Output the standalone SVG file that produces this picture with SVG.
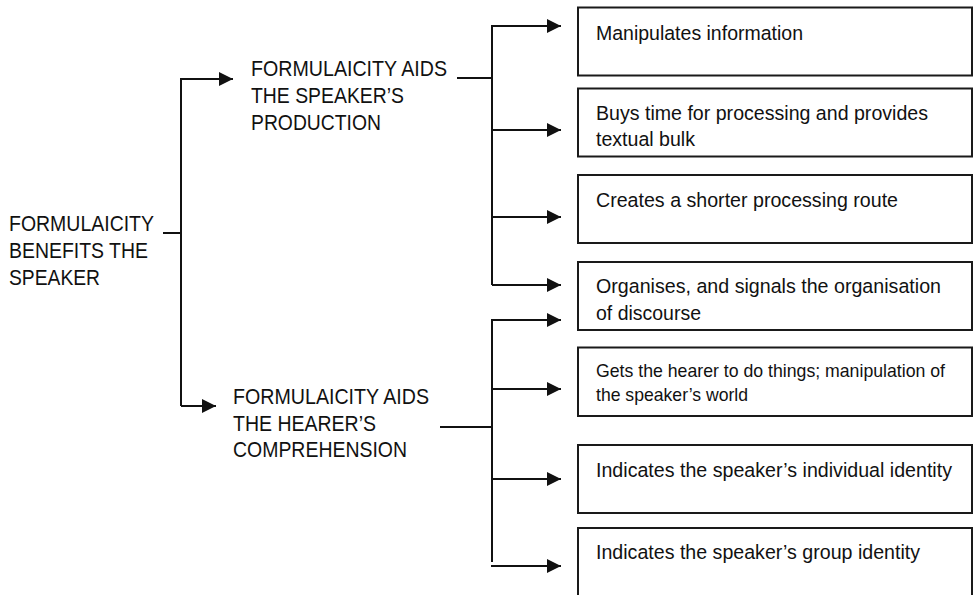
<svg xmlns="http://www.w3.org/2000/svg" width="974" height="595" viewBox="0 0 974 595">
<defs>
<style>
text{font-family:"Liberation Sans Narrow","Liberation Sans",Arial,sans-serif;fill:#111;font-size:22px}
.bt{font-size:20.5px}
.sm{font-size:18.5px}
.box{fill:#fff;stroke:#1a1a1a;stroke-width:2}
.ln{fill:none;stroke:#111;stroke-width:2}
</style>
<marker id="ah" markerUnits="userSpaceOnUse" markerWidth="15" markerHeight="15" refX="14" refY="7" orient="auto">
<path d="M0,0 L14,7 L0,14 z" fill="#111"/>
</marker>
</defs>
<rect width="974" height="595" fill="#fff"/>

<g id="root">
<text x="9" y="231" textLength="145" lengthAdjust="spacingAndGlyphs">FORMULAICITY</text>
<text x="9" y="258" textLength="139" lengthAdjust="spacingAndGlyphs">BENEFITS THE</text>
<text x="9" y="285" textLength="91" lengthAdjust="spacingAndGlyphs">SPEAKER</text>
</g>

<g id="production">
<text x="251" y="76" textLength="196" lengthAdjust="spacingAndGlyphs">FORMULAICITY AIDS</text>
<text x="251" y="103" textLength="153" lengthAdjust="spacingAndGlyphs">THE SPEAKER’S</text>
<text x="251" y="130" textLength="130" lengthAdjust="spacingAndGlyphs">PRODUCTION</text>
</g>

<g id="comprehension">
<text x="233" y="404" textLength="196" lengthAdjust="spacingAndGlyphs">FORMULAICITY AIDS</text>
<text x="233" y="431" textLength="143" lengthAdjust="spacingAndGlyphs">THE HEARER’S</text>
<text x="233" y="457" textLength="174" lengthAdjust="spacingAndGlyphs">COMPREHENSION</text>
</g>

<g id="box1">
<rect class="box" x="578" y="7.5" width="394" height="68"/>
<text class="bt" x="596" y="40" textLength="207" lengthAdjust="spacingAndGlyphs">Manipulates information</text>
</g>
<g id="box2">
<rect class="box" x="578" y="88.5" width="394" height="68"/>
<text class="bt" x="596" y="120" textLength="332" lengthAdjust="spacingAndGlyphs">Buys time for processing and provides</text>
<text class="bt" x="596" y="146" textLength="99" lengthAdjust="spacingAndGlyphs">textual bulk</text>
</g>
<g id="box3">
<rect class="box" x="578" y="175" width="394" height="68"/>
<text class="bt" x="596" y="207" textLength="302" lengthAdjust="spacingAndGlyphs">Creates a shorter processing route</text>
</g>
<g id="box4">
<rect class="box" x="578" y="262" width="394" height="68"/>
<text class="bt" x="596" y="293" textLength="345" lengthAdjust="spacingAndGlyphs">Organises, and signals the organisation</text>
<text class="bt" x="596" y="320" textLength="105" lengthAdjust="spacingAndGlyphs">of discourse</text>
</g>
<g id="box5">
<rect class="box" x="578" y="347.5" width="394" height="68.5"/>
<text class="sm" x="596" y="377" textLength="349" lengthAdjust="spacingAndGlyphs">Gets the hearer to do things; manipulation of</text>
<text class="sm" x="596" y="401" textLength="152" lengthAdjust="spacingAndGlyphs">the speaker’s world</text>
</g>
<g id="box6">
<rect class="box" x="578" y="445" width="394" height="68"/>
<text class="bt" x="596" y="477" textLength="356" lengthAdjust="spacingAndGlyphs">Indicates the speaker’s individual identity</text>
</g>
<g id="box7">
<rect class="box" x="578" y="528" width="394" height="80"/>
<text class="bt" x="596" y="559" textLength="324" lengthAdjust="spacingAndGlyphs">Indicates the speaker’s group identity</text>
</g>

<g id="connectors">
<path class="ln" d="M163,233 H181"/>
<path class="ln" d="M181,406 V79 H233" marker-end="url(#ah)"/>
<path class="ln" d="M181,406 H216" marker-end="url(#ah)"/>

<path class="ln" d="M457,78 H492"/>
<path class="ln" d="M492,285 V26 H561" marker-end="url(#ah)"/>
<path class="ln" d="M492,130 H561" marker-end="url(#ah)"/>
<path class="ln" d="M492,217 H561" marker-end="url(#ah)"/>
<path class="ln" d="M492,285 H561" marker-end="url(#ah)"/>

<path class="ln" d="M440,427 H492"/>
<path class="ln" d="M492,562 V320 H561" marker-end="url(#ah)"/>
<path class="ln" d="M492,389 H561" marker-end="url(#ah)"/>
<path class="ln" d="M492,479 H561" marker-end="url(#ah)"/>
<path class="ln" d="M491,566 H561" marker-end="url(#ah)"/>
</g>
</svg>
